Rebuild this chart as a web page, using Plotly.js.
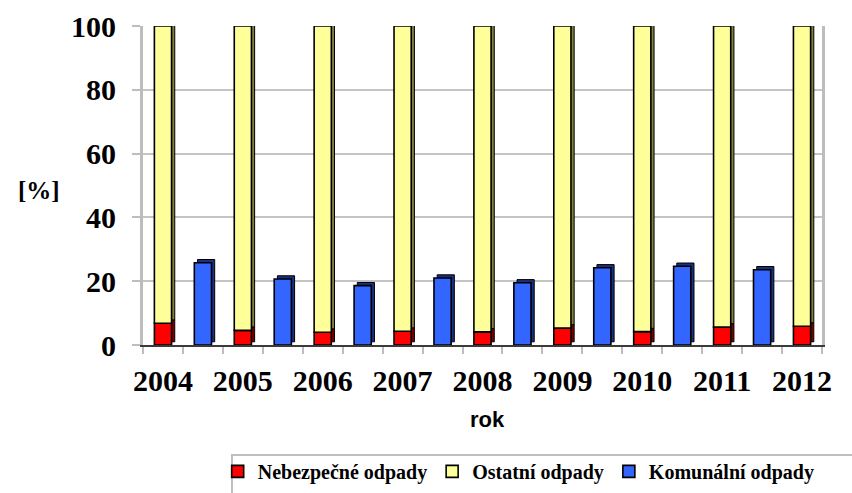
<!DOCTYPE html>
<html>
<head>
<meta charset="utf-8">
<script src="https://cdn.plot.ly/plotly-3.0.1.min.js"></script>
<style>html,body{margin:0;padding:0;background:#fff;}#chart{width:852px;height:493px;}</style>
</head>
<body>
<div id="chart"></div>
<script>
// ---- data ----
const years = ["2004","2005","2006","2007","2008","2009","2010","2011","2012"];
const nebezpecne = [6.8, 4.6, 4.0, 4.3, 4.1, 5.3, 4.2, 5.6, 5.9];          // red
const ostatni = nebezpecne.map(v => +(100 - v).toFixed(1));                // yellow (to 100 %)
const komunalni = [25.8, 20.7, 18.6, 21.0, 19.5, 24.2, 24.7, 23.6];        // blue (between years)
const yTicks = [0, 20, 40, 60, 80, 100];

// ---- positions: 17 category slots ----
const yearPos = years.map((_, i) => 2 * i);
const komPos = komunalni.map((_, i) => 2 * i + 1);

const W = 0.43;          // bar width (slot units)
const dX = 0.08;         // 3-D depth shift (slot units)
const dY = 1.0;          // 3-D depth shift (value units)

const SERIF = "Liberation Serif";

function bar(x, y, base, color, name, shadow) {
  return {
    type: "bar", x: x, y: y, base: base, name: name,
    width: W, offset: shadow ? -W / 2 + dX : -W / 2,
    marker: { color: color, line: { color: "#000", width: shadow ? 1 : 1.6 } },
    showlegend: !shadow, hoverinfo: shadow ? "skip" : "x+y"
  };
}

const redBase = nebezpecne.map(() => 0);
const komBase = komunalni.map(() => 0);

const traces = [
  // depth faces
  bar(yearPos, ostatni, nebezpecne.map(v => v + dY), "#7f7f40", "s1", true),
  bar(yearPos, nebezpecne, redBase.map(v => v + dY), "#7a0000", "s2", true),
  bar(komPos, komunalni, komBase.map(v => v + dY), "#1c2f80", "s3", true),
  // front faces
  bar(yearPos, nebezpecne, redBase, "#ff0000", "Nebezpečné odpady", false),
  bar(yearPos, ostatni, nebezpecne, "#ffff99", "Ostatní odpady", false),
  bar(komPos, komunalni, komBase, "#3366ff", "Komunální odpady", false)
];

const layout = {
  width: 852, height: 493,
  margin: { l: 143, r: 30, t: 26, b: 148, autoexpand: false },
  paper_bgcolor: "#fff", plot_bgcolor: "#fff",
  barmode: "overlay",
  font: { family: SERIF, color: "#000" },
  xaxis: {
    automargin: false,
    range: [-0.5, 16.5], tickmode: "array", tickvals: yearPos, ticktext: years,
    ticks: "", showgrid: false, zeroline: false,
    tickfont: { family: SERIF, size: 30, color: "#000", weight: "bold" },
    ticklabelstandoff: 8,
    showline: true, linecolor: "#3a3a3a", linewidth: 2,
    minor: { tickmode: "linear", tick0: -0.5, dtick: 1, ticks: "outside", ticklen: 7, tickcolor: "#bdbdbd", tickwidth: 2, showgrid: false }
  },
  yaxis: {
    automargin: false,
    range: [0, 100], tickvals: yTicks,
    ticks: "outside", ticklen: 8, tickcolor: "#bdbdbd", tickwidth: 2,
    tickfont: { family: SERIF, size: 30, color: "#000", weight: "bold" },
    ticklabelstandoff: 10,
    showgrid: true, gridcolor: "#c4c4c4", gridwidth: 2,
    zeroline: false,
    showline: true, linecolor: "#bdbdbd", linewidth: 3, mirror: true
  },
  annotations: [{
    text: "[%]", xref: "paper", yref: "paper", x: -0.153, y: 0.485,
    xanchor: "center", yanchor: "middle", showarrow: false,
    font: { family: SERIF, size: 25, color: "#000", weight: "bold" }
  }, {
    text: "rok", xref: "paper", yref: "paper", x: 0.507, y: -0.232,
    xanchor: "center", yanchor: "middle", showarrow: false,
    font: { family: "Liberation Sans", size: 22, color: "#000", weight: "bold" }
  }],
  legend: {
    orientation: "h", x: 0.11, xanchor: "left", y: -0.335, yanchor: "top",
    font: { family: SERIF, size: 20, color: "#000", weight: "bold" },
    bgcolor: "rgba(0,0,0,0)", borderwidth: 0, traceorder: "normal"
  },
  shapes: [{
    type: "rect", xref: "paper", yref: "paper",
    x0: 0.131, x1: 1.1, y0: -0.345, y1: -0.9,
    line: { color: "#bfbfbf", width: 2 }, fillcolor: "rgba(0,0,0,0)", layer: "below"
  }]
};

Plotly.newPlot("chart", traces, layout, { displayModeBar: false, staticPlot: true });
</script>
</body>
</html>
